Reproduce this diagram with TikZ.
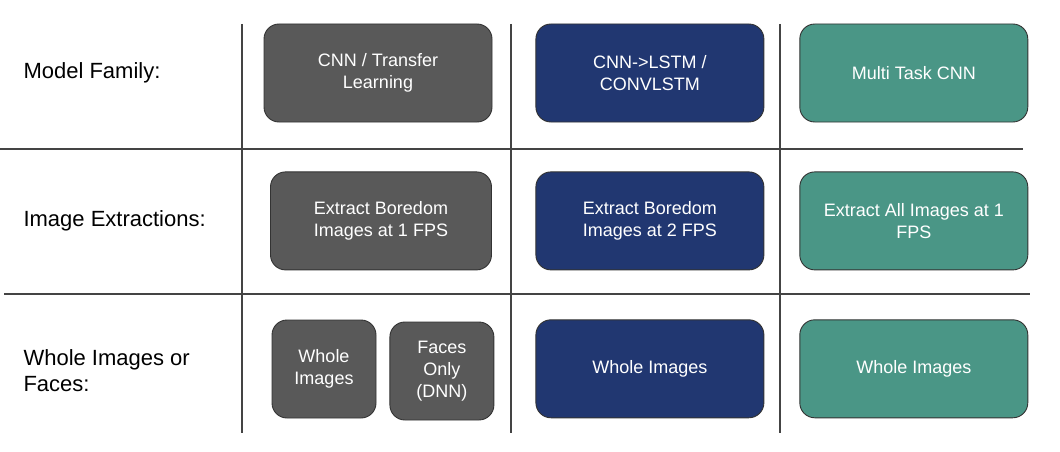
\documentclass[tikz,border=0pt]{standalone}
\usepackage{fontspec}
\setmainfont{Liberation Sans}
\usetikzlibrary{positioning}

\definecolor{boxgray}{HTML}{595959}
\definecolor{boxblue}{HTML}{213771}
\definecolor{boxteal}{HTML}{4A9686}
\definecolor{gridline}{HTML}{444444}

\begin{document}
\begin{tikzpicture}[x=1pt, y=-1pt,
	rowlabel/.style={anchor=west, align=left, font=\fontsize{22}{26}\selectfont},
	cell/.style={draw=black!80, line width=0.9pt, rounded corners=15pt, text=white, align=center,
		minimum width=228pt, minimum height=98pt, inner sep=2pt, font=\fontsize{18}{22}\selectfont},
	smallcell/.style={cell, minimum width=104pt, text width=98pt},
	graycell/.style={cell, fill=boxgray},
	bluecell/.style={cell, fill=boxblue},
	tealcell/.style={cell, fill=boxteal},
	gridrule/.style={draw=gridline, line width=1.1pt}]

\useasboundingbox (0,0) rectangle (1060,452);

% grid
\draw [gridrule] (242,24) -- (242,433);
\draw [gridrule] (511,24) -- (511,433);
\draw [gridrule] (780,24) -- (780,433);
\draw [gridrule] (0,149) -- (1023,149);
\draw [gridrule] (4,294) -- (1030,294);

% row labels
\node [rowlabel] (lab1) at (20,73) {Model Family:};
\node [rowlabel] (lab2) at (20,221) {Image Extractions:};
\node [rowlabel] (lab3) at (20,371) {Whole Images or\\Faces:};

% model family
\node [graycell] (fam1) at (378,73) {CNN / Transfer\\Learning};
\node [bluecell, right=43pt of fam1] (fam2) {CNN->LSTM /\\CONVLSTM};
\node [tealcell, right=35pt of fam2] (fam3) {Multi Task  CNN};

% image extractions
\node [graycell, below=49pt of fam1, xshift=3pt, minimum width=221pt] (ext1) {Extract Boredom\\Images at 1 FPS};
\node [bluecell, below=49pt of fam2] (ext2) {Extract Boredom\\Images at 2 FPS};
\node [tealcell, below=49pt of fam3] (ext3) {Extract All Images at 1\\FPS};

% whole images or faces
\node [graycell, smallcell] (img1) at (324,369) {Whole\\Images};
\node [graycell, smallcell, right=13pt of img1, yshift=-2pt] (img2) {Faces\\Only\\(DNN)};
\node [bluecell, below=49pt of ext2] (img3) {Whole Images};
\node [tealcell, below=49pt of ext3] (img4) {Whole Images};

\end{tikzpicture}
\end{document}
